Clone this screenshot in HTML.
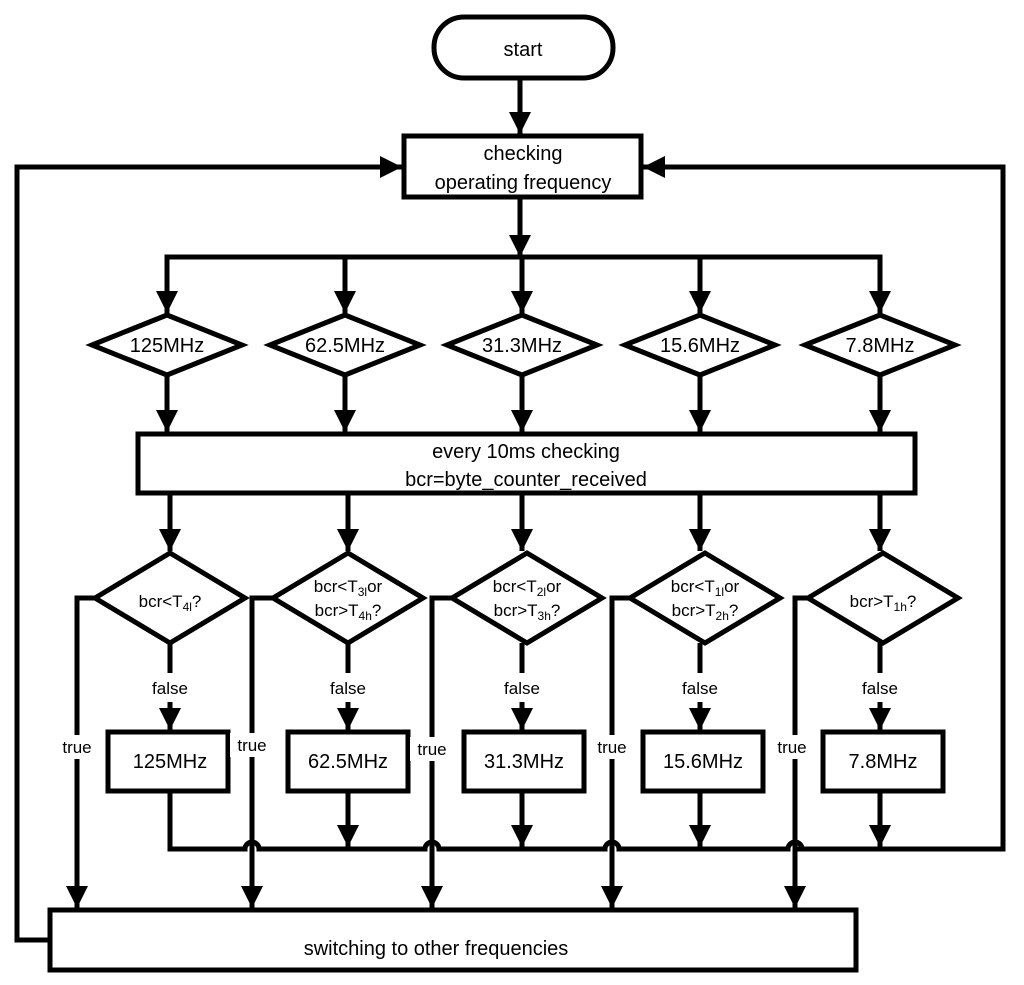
<!DOCTYPE html>
<html><head><style>body{margin:0;background:#fff}svg{display:block}text{font-family:"Liberation Sans",Arial,sans-serif;fill:#000}</style></head><body>
<svg width="1024" height="985" viewBox="0 0 1024 985" xmlns="http://www.w3.org/2000/svg">
<defs><marker id="a" markerWidth="8" markerHeight="8" refX="7" refY="4" orient="auto" markerUnits="userSpaceOnUse" viewBox="0 0 8 8"><path d="M0,0 L8,4 L0,8z"/></marker>
<marker id="b" viewBox="0 0 10 10" refX="10" refY="5" markerWidth="22" markerHeight="22" orient="auto" markerUnits="userSpaceOnUse"><path d="M0,0 L10,5 L0,10z"/></marker></defs>
<g stroke="#000" stroke-width="5" fill="none">
<rect x="434" y="17" width="179" height="61" rx="30"/>
<rect x="404" y="136" width="237" height="61"/>
<rect x="138" y="434" width="777" height="59"/>
<rect x="50" y="910" width="806" height="60"/>
<line x1="520" y1="78" x2="520" y2="134" marker-end="url(#b)"/>
<line x1="520" y1="197" x2="520" y2="257" marker-end="url(#b)"/>
<polyline points="167,315 167,257 880,257 880,313" marker-end="url(#b)"/>
<polyline points="167,313 167,257" marker-start="url(#b)" />
<line x1="345" y1="257" x2="345" y2="313" marker-end="url(#b)"/>
<line x1="522" y1="257" x2="522" y2="313" marker-end="url(#b)"/>
<line x1="700" y1="257" x2="700" y2="313" marker-end="url(#b)"/>
<line x1="167" y1="257" x2="167" y2="313" marker-end="url(#b)"/>
<polyline points="50,940 17,940 17,167 402,167" marker-end="url(#b)"/>
<polyline points="795,849 1003,849 1003,167 643,167" marker-end="url(#b)"/>
<path d="M170,791 L170,849 L245,849 a7,7 0 0 1 14,0 L425,849 a7,7 0 0 1 14,0 L605,849 a7,7 0 0 1 14,0 L788,849 a7,7 0 0 1 14,0 L1003,849"/>
</g>
<g stroke="#000" stroke-width="5" fill="#fff">
<polygon points="92,345 167,315 242,345 167,375"/>
<polygon points="270,345 345,315 420,345 345,375"/>
<polygon points="447,345 522,315 597,345 522,375"/>
<polygon points="625,345 700,315 775,345 700,375"/>
<polygon points="805,345 880,315 955,345 880,375"/>
<polygon points="95,598 170,553 245,598 170,643"/>
<polygon points="273,598 348,553 423,598 348,643"/>
<polygon points="452,598 527,553 602,598 527,643"/>
<polygon points="630,598 705,553 780,598 705,643"/>
<polygon points="808,598 883,553 958,598 883,643"/>
<rect x="108" y="732" width="120" height="59"/>
<rect x="288" y="732" width="120" height="59"/>
<rect x="464" y="732" width="120" height="59"/>
<rect x="643" y="732" width="120" height="59"/>
<rect x="823" y="732" width="120" height="59"/>
</g>
<g stroke="#000" stroke-width="5" fill="none">
<line x1="167" y1="375" x2="167" y2="432" marker-end="url(#b)"/>
<line x1="345" y1="375" x2="345" y2="432" marker-end="url(#b)"/>
<line x1="522" y1="375" x2="522" y2="432" marker-end="url(#b)"/>
<line x1="700" y1="375" x2="700" y2="432" marker-end="url(#b)"/>
<line x1="880" y1="375" x2="880" y2="432" marker-end="url(#b)"/>
<line x1="170" y1="493" x2="170" y2="551" marker-end="url(#b)"/>
<line x1="348" y1="493" x2="348" y2="551" marker-end="url(#b)"/>
<line x1="522" y1="493" x2="522" y2="551" marker-end="url(#b)"/>
<line x1="700" y1="493" x2="700" y2="551" marker-end="url(#b)"/>
<line x1="880" y1="493" x2="880" y2="551" marker-end="url(#b)"/>
<line x1="170" y1="643" x2="170" y2="673"/><line x1="170" y1="702" x2="170" y2="730" marker-end="url(#b)"/>
<line x1="348" y1="643" x2="348" y2="673"/><line x1="348" y1="702" x2="348" y2="730" marker-end="url(#b)"/>
<line x1="522" y1="643" x2="522" y2="673"/><line x1="522" y1="702" x2="522" y2="730" marker-end="url(#b)"/>
<line x1="700" y1="643" x2="700" y2="673"/><line x1="700" y1="702" x2="700" y2="730" marker-end="url(#b)"/>
<line x1="880" y1="643" x2="880" y2="673"/><line x1="880" y1="702" x2="880" y2="730" marker-end="url(#b)"/>
<line x1="348" y1="791" x2="348" y2="847" marker-end="url(#b)"/>
<line x1="522" y1="791" x2="522" y2="847" marker-end="url(#b)"/>
<line x1="700" y1="791" x2="700" y2="847" marker-end="url(#b)"/>
<line x1="880" y1="791" x2="880" y2="847" marker-end="url(#b)"/>
<polyline points="95,598 77,598 77,908" marker-end="url(#b)"/>
<polyline points="273,598 252,598 252,908" marker-end="url(#b)"/>
<polyline points="452,598 432,598 432,908" marker-end="url(#b)"/>
<polyline points="630,598 612,598 612,908" marker-end="url(#b)"/>
<polyline points="808,598 795,598 795,908" marker-end="url(#b)"/>
</g>
<g fill="#fff"><rect x="55" y="735" width="44" height="24"/><rect x="230" y="733" width="44" height="24"/><rect x="410" y="737" width="44" height="24"/><rect x="590" y="735" width="44" height="24"/><rect x="773" y="735" width="44" height="24"/></g>
<g font-size="20" text-anchor="middle">
<text x="523" y="56">start</text>
<text x="523" y="160">checking</text><text x="523" y="189">operating frequency</text>
<text x="167" y="352">125MHz</text><text x="345" y="352">62.5MHz</text><text x="522" y="352">31.3MHz</text><text x="700" y="352">15.6MHz</text><text x="880" y="352">7.8MHz</text>
<text x="526" y="458">every 10ms checking</text><text x="526" y="486">bcr=byte_counter_received</text>
<text x="170" y="768">125MHz</text><text x="348" y="768">62.5MHz</text><text x="524" y="768">31.3MHz</text><text x="703" y="768">15.6MHz</text><text x="883" y="768">7.8MHz</text>
<text x="436" y="955">switching to other frequencies</text>
</g>
<g font-size="17" text-anchor="middle">
<text x="170" y="694">false</text><text x="348" y="694">false</text><text x="522" y="694">false</text><text x="700" y="694">false</text><text x="880" y="694">false</text>
<text x="77" y="753">true</text><text x="252" y="751">true</text><text x="432" y="755">true</text><text x="612" y="753">true</text><text x="792" y="753">true</text>
<text x="170" y="607">bcr&lt;T<tspan font-size="12" dy="4">4l</tspan><tspan dy="-4">?</tspan></text>
<text x="348" y="592">bcr&lt;T<tspan font-size="12" dy="4">3l</tspan><tspan dy="-4">or</tspan></text>
<text x="348" y="616">bcr&gt;T<tspan font-size="12" dy="4">4h</tspan><tspan dy="-4">?</tspan></text>
<text x="527" y="592">bcr&lt;T<tspan font-size="12" dy="4">2l</tspan><tspan dy="-4">or</tspan></text>
<text x="527" y="616">bcr&gt;T<tspan font-size="12" dy="4">3h</tspan><tspan dy="-4">?</tspan></text>
<text x="705" y="592">bcr&lt;T<tspan font-size="12" dy="4">1l</tspan><tspan dy="-4">or</tspan></text>
<text x="705" y="616">bcr&gt;T<tspan font-size="12" dy="4">2h</tspan><tspan dy="-4">?</tspan></text>
<text x="883" y="607">bcr&gt;T<tspan font-size="12" dy="4">1h</tspan><tspan dy="-4">?</tspan></text>
</g>
</svg>
</body></html>
